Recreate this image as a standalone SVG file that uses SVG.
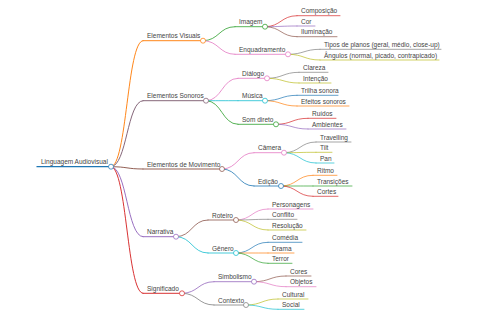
<svg xmlns="http://www.w3.org/2000/svg" width="480" height="320" viewBox="0 0 480 320">
<style>
text{font-family:"Liberation Sans",Arial,sans-serif;font-size:6.5px;fill:#444}
path,line{fill:none;stroke-linecap:round}
circle{fill:#fff;stroke-width:0.75}
.l0{stroke-width:1.3}.l1{stroke-width:0.95}.l2{stroke-width:0.8}.l3{stroke-width:0.7}
.blue{stroke:#1f77b4}.orange{stroke:#ff7f0e}.green{stroke:#2ca02c}.red{stroke:#d62728}.purple{stroke:#9467bd}.brown{stroke:#8c564b}.pink{stroke:#e377c2}.gray{stroke:#7f7f7f}.olive{stroke:#bcbd22}.cyan{stroke:#17becf}.mauve{stroke:#7f5f73}
</style>
<rect width="480" height="320" fill="#fff"/>
<g id="connectors">
<path class="l1 orange" d="M111,166.7C127,166.7 127,40.7 143,40.7"/>
<path class="l1 mauve" d="M111,166.7C127,166.7 127,100.7 143,100.7"/>
<path class="l1 brown" d="M111,166.7C127,166.7 127,169 143,169"/>
<path class="l1 purple" d="M111,166.7C127,166.7 127,236.7 143,236.7"/>
<path class="l1 red" d="M111,166.7C127,166.7 127,293.3 143,293.3"/>
<path class="l2 green" d="M203,40.7C219,40.7 219,26.7 235,26.7"/>
<path class="l2 pink" d="M203,40.7C219,40.7 219,54.3 235,54.3"/>
<path class="l2 pink" d="M206,100.7C222,100.7 222,78.3 238,78.3"/>
<path class="l2 cyan" d="M206,100.7C222,100.7 222,100.7 238,100.7"/>
<path class="l2 green" d="M206,100.7C222,100.7 222,124.3 238,124.3"/>
<path class="l2 pink" d="M222,169C238,169 238,152.7 254,152.7"/>
<path class="l2 blue" d="M222,169C238,169 238,186 254,186"/>
<path class="l2 brown" d="M176,236.7C192,236.7 192,220 208,220"/>
<path class="l2 cyan" d="M176,236.7C192,236.7 192,253 208,253"/>
<path class="l2 purple" d="M182,293.3C198,293.3 198,281.7 214,281.7"/>
<path class="l2 gray" d="M182,293.3C198,293.3 198,305 214,305"/>
<path class="l3 red" d="M265,26.7C281,26.7 281,15.7 297,15.7"/>
<path class="l3 purple" d="M265,26.7C281,26.7 281,26 297,26"/>
<path class="l3 brown" d="M265,26.7C281,26.7 281,36.7 297,36.7"/>
<path class="l3 gray" d="M288,54.3C304,54.3 304,49.3 320,49.3"/>
<path class="l3 olive" d="M288,54.3C304,54.3 304,60 320,60"/>
<path class="l3 gray" d="M267,78.3C283,78.3 283,72.3 299,72.3"/>
<path class="l3 olive" d="M267,78.3C283,78.3 283,83 299,83"/>
<path class="l3 blue" d="M265,100.7C281,100.7 281,95.3 297,95.3"/>
<path class="l3 orange" d="M265,100.7C281,100.7 281,106 297,106"/>
<path class="l3 red" d="M276,124.3C292,124.3 292,118.3 308,118.3"/>
<path class="l3 purple" d="M276,124.3C292,124.3 292,129 308,129"/>
<path class="l3 gray" d="M284,152.7C300,152.7 300,142 316,142"/>
<path class="l3 olive" d="M284,152.7C300,152.7 300,152.3 316,152.3"/>
<path class="l3 cyan" d="M284,152.7C300,152.7 300,163 316,163"/>
<path class="l3 orange" d="M281,186C297,186 297,175.3 313,175.3"/>
<path class="l3 green" d="M281,186C297,186 297,186 313,186"/>
<path class="l3 red" d="M281,186C297,186 297,196.3 313,196.3"/>
<path class="l3 pink" d="M236,220C252,220 252,209 268,209"/>
<path class="l3 gray" d="M236,220C252,220 252,219.3 268,219.3"/>
<path class="l3 olive" d="M236,220C252,220 252,230 268,230"/>
<path class="l3 blue" d="M236,253C252,253 252,242.3 268,242.3"/>
<path class="l3 orange" d="M236,253C252,253 252,253 268,253"/>
<path class="l3 green" d="M236,253C252,253 252,263.3 268,263.3"/>
<path class="l3 brown" d="M254,281.7C270,281.7 270,276 286,276"/>
<path class="l3 pink" d="M254,281.7C270,281.7 270,286.7 286,286.7"/>
<path class="l3 olive" d="M246,305C262,305 262,299 278,299"/>
<path class="l3 cyan" d="M246,305C262,305 262,309.3 278,309.3"/>
</g>
<g id="root"><line class="l0 blue" x1="37" y1="166.7" x2="111" y2="166.7"/><circle class="blue" cx="111" cy="166.7" r="2.5"/><text x="41" y="164.4">Linguagem Audiovisual</text></g>
<g id="elementos-visuais"><line class="l1 orange" x1="143" y1="40.7" x2="203" y2="40.7"/><circle class="orange" cx="203" cy="40.7" r="2.5"/><text x="147" y="38.4">Elementos Visuais</text></g>
<g id="imagem"><line class="l2 green" x1="235" y1="26.7" x2="265" y2="26.7"/><circle class="green" cx="265" cy="26.7" r="2.5"/><text x="239" y="24.4">Imagem</text></g>
<g id="composicao"><line class="l3 red" x1="297" y1="15.7" x2="340" y2="15.7"/><text x="301" y="13.4">Composição</text></g>
<g id="cor"><line class="l3 purple" x1="297" y1="26" x2="315" y2="26"/><text x="301" y="23.7">Cor</text></g>
<g id="iluminacao"><line class="l3 brown" x1="297" y1="36.7" x2="337" y2="36.7"/><text x="301" y="34.4">Iluminação</text></g>
<g id="enquadramento"><line class="l2 pink" x1="235" y1="54.3" x2="288" y2="54.3"/><circle class="pink" cx="288" cy="54.3" r="2.5"/><text x="239" y="52">Enquadramento</text></g>
<g id="tipos"><line class="l3 gray" x1="320" y1="49.3" x2="441" y2="49.3"/><text x="324" y="47">Tipos de planos (geral, médio, close-up)</text></g>
<g id="angulos"><line class="l3 olive" x1="320" y1="60" x2="439" y2="60"/><text x="324" y="57.7">Ângulos (normal, picado, contrapicado)</text></g>
<g id="elementos-sonoros"><line class="l1 mauve" x1="143" y1="100.7" x2="206" y2="100.7"/><circle class="mauve" cx="206" cy="100.7" r="2.5"/><text x="147" y="98.4">Elementos Sonoros</text></g>
<g id="dialogo"><line class="l2 pink" x1="238" y1="78.3" x2="267" y2="78.3"/><circle class="pink" cx="267" cy="78.3" r="2.5"/><text x="242" y="76">Diálogo</text></g>
<g id="clareza"><line class="l3 gray" x1="299" y1="72.3" x2="328" y2="72.3"/><text x="303" y="70">Clareza</text></g>
<g id="intencao"><line class="l3 olive" x1="299" y1="83" x2="331" y2="83"/><text x="303" y="80.7">Intenção</text></g>
<g id="musica"><line class="l2 cyan" x1="238" y1="100.7" x2="265" y2="100.7"/><circle class="cyan" cx="265" cy="100.7" r="2.5"/><text x="242" y="98.4">Música</text></g>
<g id="trilha"><line class="l3 blue" x1="297" y1="95.3" x2="338" y2="95.3"/><text x="301" y="93">Trilha sonora</text></g>
<g id="efeitos"><line class="l3 orange" x1="297" y1="106" x2="349" y2="106"/><text x="301" y="103.7">Efeitos sonoros</text></g>
<g id="som-direto"><line class="l2 green" x1="238" y1="124.3" x2="276" y2="124.3"/><circle class="green" cx="276" cy="124.3" r="2.5"/><text x="242" y="122">Som direto</text></g>
<g id="ruidos"><line class="l3 red" x1="308" y1="118.3" x2="336" y2="118.3"/><text x="312" y="116">Ruídos</text></g>
<g id="ambientes"><line class="l3 purple" x1="308" y1="129" x2="346" y2="129"/><text x="312" y="126.7">Ambientes</text></g>
<g id="elementos-movimento"><line class="l1 brown" x1="143" y1="169" x2="222" y2="169"/><circle class="brown" cx="222" cy="169" r="2.5"/><text x="147" y="166.7">Elementos de Movimento</text></g>
<g id="camera"><line class="l2 pink" x1="254" y1="152.7" x2="284" y2="152.7"/><circle class="pink" cx="284" cy="152.7" r="2.5"/><text x="258" y="150.4">Câmera</text></g>
<g id="travelling"><line class="l3 gray" x1="316" y1="142" x2="351" y2="142"/><text x="320" y="139.7">Travelling</text></g>
<g id="tilt"><line class="l3 olive" x1="316" y1="152.3" x2="332" y2="152.3"/><text x="320" y="150">Tilt</text></g>
<g id="pan"><line class="l3 cyan" x1="316" y1="163" x2="334" y2="163"/><text x="320" y="160.7">Pan</text></g>
<g id="edicao"><line class="l2 blue" x1="254" y1="186" x2="281" y2="186"/><circle class="blue" cx="281" cy="186" r="2.5"/><text x="258" y="183.7">Edição</text></g>
<g id="ritmo"><line class="l3 orange" x1="313" y1="175.3" x2="337" y2="175.3"/><text x="317" y="173">Ritmo</text></g>
<g id="transicoes"><line class="l3 green" x1="313" y1="186" x2="352" y2="186"/><text x="317" y="183.7">Transições</text></g>
<g id="cortes"><line class="l3 red" x1="313" y1="196.3" x2="338" y2="196.3"/><text x="317" y="194">Cortes</text></g>
<g id="narrativa"><line class="l1 purple" x1="143" y1="236.7" x2="176" y2="236.7"/><circle class="purple" cx="176" cy="236.7" r="2.5"/><text x="147" y="234.4">Narrativa</text></g>
<g id="roteiro"><line class="l2 brown" x1="208" y1="220" x2="236" y2="220"/><circle class="brown" cx="236" cy="220" r="2.5"/><text x="212" y="217.7">Roteiro</text></g>
<g id="personagens"><line class="l3 pink" x1="268" y1="209" x2="313" y2="209"/><text x="272" y="206.7">Personagens</text></g>
<g id="conflito"><line class="l3 gray" x1="268" y1="219.3" x2="297" y2="219.3"/><text x="272" y="217">Conflito</text></g>
<g id="resolucao"><line class="l3 olive" x1="268" y1="230" x2="306" y2="230"/><text x="272" y="227.7">Resolução</text></g>
<g id="genero"><line class="l2 cyan" x1="208" y1="253" x2="236" y2="253"/><circle class="cyan" cx="236" cy="253" r="2.5"/><text x="212" y="250.7">Gênero</text></g>
<g id="comedia"><line class="l3 blue" x1="268" y1="242.3" x2="302" y2="242.3"/><text x="272" y="240">Comédia</text></g>
<g id="drama"><line class="l3 orange" x1="268" y1="253" x2="294" y2="253"/><text x="272" y="250.7">Drama</text></g>
<g id="terror"><line class="l3 green" x1="268" y1="263.3" x2="292" y2="263.3"/><text x="272" y="261">Terror</text></g>
<g id="significado"><line class="l1 red" x1="143" y1="293.3" x2="182" y2="293.3"/><circle class="red" cx="182" cy="293.3" r="2.5"/><text x="147" y="291">Significado</text></g>
<g id="simbolismo"><line class="l2 purple" x1="214" y1="281.7" x2="254" y2="281.7"/><circle class="purple" cx="254" cy="281.7" r="2.5"/><text x="218" y="279.4">Simbolismo</text></g>
<g id="cores"><line class="l3 brown" x1="286" y1="276" x2="311" y2="276"/><text x="290" y="273.7">Cores</text></g>
<g id="objetos"><line class="l3 pink" x1="286" y1="286.7" x2="316" y2="286.7"/><text x="290" y="284.4">Objetos</text></g>
<g id="contexto"><line class="l2 gray" x1="214" y1="305" x2="246" y2="305"/><circle class="gray" cx="246" cy="305" r="2.5"/><text x="218" y="302.7">Contexto</text></g>
<g id="cultural"><line class="l3 olive" x1="278" y1="299" x2="308" y2="299"/><text x="282" y="296.7">Cultural</text></g>
<g id="social"><line class="l3 cyan" x1="278" y1="309.3" x2="304" y2="309.3"/><text x="282" y="307">Social</text></g>
</svg>
